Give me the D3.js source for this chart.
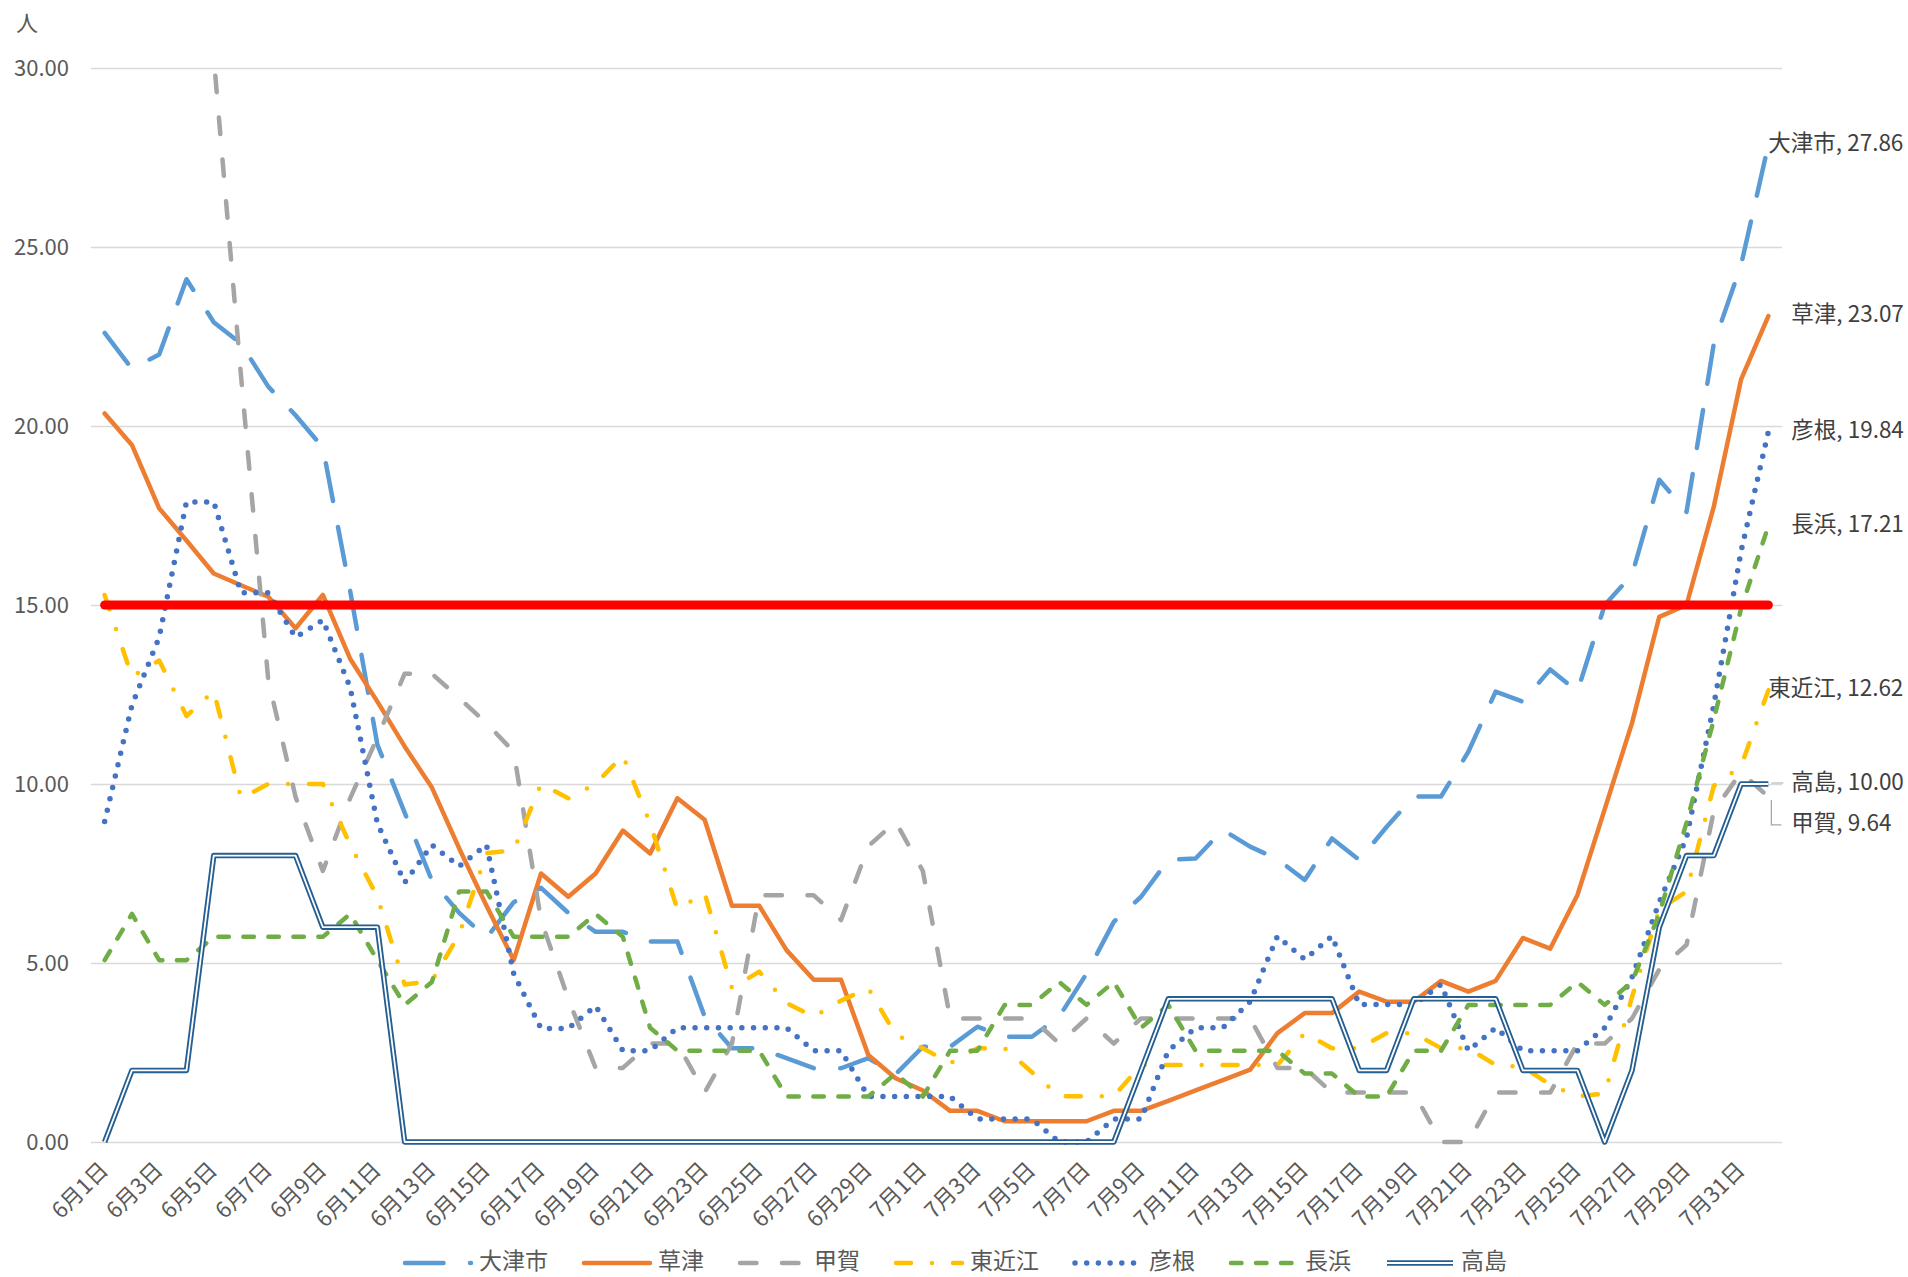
<!DOCTYPE html>
<html>
<head>
<meta charset="utf-8">
<script src="https://cdn.jsdelivr.net/npm/d3@7"></script>
<style>
  body { margin: 0; background: #fff; }
  svg { display: block; }
</style>
</head>
<body>
<svg></svg>
<script>
let dates = [
  '6月1日', '6月2日', '6月3日', '6月4日', '6月5日', '6月6日', '6月7日', '6月8日', '6月9日', '6月10日',
  '6月11日', '6月12日', '6月13日', '6月14日', '6月15日', '6月16日', '6月17日', '6月18日', '6月19日', '6月20日',
  '6月21日', '6月22日', '6月23日', '6月24日', '6月25日', '6月26日', '6月27日', '6月28日', '6月29日', '6月30日',
  '7月1日', '7月2日', '7月3日', '7月4日', '7月5日', '7月6日', '7月7日', '7月8日', '7月9日', '7月10日',
  '7月11日', '7月12日', '7月13日', '7月14日', '7月15日', '7月16日', '7月17日', '7月18日', '7月19日', '7月20日',
  '7月21日', '7月22日', '7月23日', '7月24日', '7月25日', '7月26日', '7月27日', '7月28日', '7月29日', '7月30日',
  '7月31日', '8月1日'
]

let otsu = [
  22.6, 21.6, 22.0, 24.1, 22.9, 22.3, 21.1, 20.3, 19.4, 15.4,
  11.1, 9.2, 7.3, 6.4, 5.7, 6.7, 7.1, 6.4, 5.87, 5.87,
  5.6, 5.6, 3.5, 2.62, 2.62, 2.34, 2.06, 2.06, 2.34, 1.89,
  2.66, 2.66, 3.22, 2.94, 2.94, 3.5, 4.7, 6.15, 6.85, 7.88,
  7.92, 8.72, 8.25, 7.9, 7.32, 8.48, 7.88, 8.8, 9.65, 9.65,
  10.9, 12.58, 12.3, 13.2, 12.58, 15.0, 15.84, 18.5, 17.6, 22.3,
  24.5, 27.86
]

let kusatsu = [
  20.35, 19.47, 17.7, 16.8, 15.88, 15.55, 15.23, 14.35, 15.28, 13.5,
  12.3, 11.05, 9.9, 8.2, 6.6, 5.08, 7.5, 6.85, 7.5, 8.7,
  8.06, 9.6, 9.0, 6.6, 6.6, 5.36, 4.53, 4.53, 2.43, 1.78,
  1.44, 0.87, 0.87, 0.58, 0.58, 0.58, 0.58, 0.87, 0.87, 1.15,
  1.44, 1.73, 2.02, 3.04, 3.6, 3.6, 4.2, 3.92, 3.92, 4.5,
  4.2, 4.5, 5.7, 5.4, 6.9, 9.3, 11.7, 14.67, 15.0, 17.75,
  21.3, 23.07
]

let koka = [
  31.68, 33.05, 34.43, 33.74, 30.3, 21.4, 12.9, 9.64, 7.57, 9.6,
  11.3, 13.08, 13.08, 12.4, 11.7, 10.9, 6.2, 4.0, 2.07, 2.07,
  2.75, 2.75, 1.38, 2.75, 6.89, 6.89, 6.89, 6.2, 8.26, 8.95,
  7.57, 3.45, 3.45, 3.45, 3.45, 2.75, 3.45, 2.75, 3.45, 3.45,
  3.45, 3.45, 3.45, 2.07, 2.07, 1.38, 1.38, 1.38, 1.38, 0,
  0, 1.38, 1.38, 1.38, 2.75, 2.75, 3.45, 4.82, 5.51, 9.25,
  10.33, 9.64
]

let higashiomi = [
  15.28, 13.0, 13.45, 11.9, 12.6, 9.6, 10.0, 10.0, 10.0, 8.3,
  6.85, 4.4, 4.5, 5.8, 8.07, 8.15, 10.0, 9.6, 10.0, 10.8,
  8.9, 6.5, 6.95, 4.3, 4.76, 3.88, 3.5, 3.95, 4.3, 3.0,
  2.62, 2.2, 2.62, 2.62, 1.95, 1.28, 1.28, 1.28, 2.15, 2.15,
  2.15, 2.15, 2.15, 2.15, 3.04, 2.62, 2.62, 3.04, 3.04, 2.62,
  2.62, 2.15, 2.1, 1.6, 1.28, 1.35, 4.05, 6.5, 7.0, 9.95,
  10.5, 12.62
]

let hikone = [
  8.95, 12.2, 14.1, 17.88, 17.88, 15.34, 15.34, 14.1, 14.58, 12.7,
  8.9, 7.25, 8.3, 7.7, 8.3, 4.7, 3.17, 3.17, 3.8, 2.55,
  2.55, 3.19, 3.19, 3.19, 3.19, 3.19, 2.55, 2.55, 1.27, 1.27,
  1.27, 1.27, 0.64, 0.64, 0.64, 0, 0, 0.64, 0.64, 2.55,
  3.19, 3.19, 3.92, 5.75, 5.1, 5.75, 3.84, 3.84, 3.84, 4.4,
  2.55, 3.19, 2.55, 2.55, 2.55, 3.19, 4.6, 6.7, 8.5, 12.2,
  16.5, 19.84
]

let nagahama = [
  5.08, 6.37, 5.08, 5.08, 5.73, 5.73, 5.73, 5.73, 5.73, 6.37,
  5.08, 3.83, 4.47, 7.0, 7.0, 5.73, 5.73, 5.73, 6.37, 5.73,
  3.19, 2.55, 2.55, 2.55, 2.55, 1.27, 1.27, 1.27, 1.27, 1.91,
  1.27, 2.55, 2.55, 3.83, 3.83, 4.47, 3.83, 4.47, 3.19, 3.83,
  2.55, 2.55, 2.55, 2.55, 1.91, 1.91, 1.27, 1.27, 2.55, 2.55,
  3.83, 3.83, 3.83, 3.83, 4.47, 3.83, 4.47, 6.37, 8.92, 11.8,
  14.9, 17.21
]

let takashima = [
  0, 2, 2, 2, 8, 8, 8, 8, 6, 6,
  6, 0, 0, 0, 0, 0, 0, 0, 0, 0,
  0, 0, 0, 0, 0, 0, 0, 0, 0, 0,
  0, 0, 0, 0, 0, 0, 0, 0, 2, 4,
  4, 4, 4, 4, 4, 4, 2, 2, 4, 4,
  4, 4, 2, 2, 2, 0, 2, 6, 8, 8,
  10, 10
]

let names = [ '大津市', '草津', '甲賀', '東近江', '彦根', '長浜', '高島' ]
let values = [ otsu, kusatsu, koka, higashiomi, hikone, nagahama, takashima ]
let threshold = 15
let yTicks = [ 0, 5, 10, 15, 20, 25, 30 ]
let unitLabel = '人'

// styles per series (kept apart from the data)
let styles = {
  '大津市': { color: '#5B9BD5', width: 4.5, dash: '38.5 26.5', labelDx: 0, labelDy: 0 },
  '草津':   { color: '#ED7D31', width: 4.5, dash: null, labelDx: 23, labelDy: 0 },
  '甲賀':   { color: '#A5A5A5', width: 4.5, dash: '16.5 25.5', labelDx: 23, labelDy: 28 },
  '東近江': { color: '#FFC000', width: 4.5, dash: '15 21 0 21', labelDx: 0, labelDy: 0 },
  '彦根':   { color: '#4472C4', width: 5.5, dash: '0 11.7', labelDx: 23, labelDy: 0 },
  '長浜':   { color: '#70AD47', width: 4.5, dash: '10.5 14.5', labelDx: 23, labelDy: 0 },
  '高島':   { color: '#255E91', width: 5.5, dash: null, double: true, labelDx: 23, labelDy: 0 }
}

let font = "'Noto Sans CJK JP', 'Noto Sans', sans-serif"
let width = 1908
let height = 1277
let plot = { left: 91, right: 1782, top: 68, bottom: 1142 }

const xScale =
d3.scalePoint()
  .domain( dates )
  .range( [ plot.left, plot.right ] )
  .padding( 0.5 )

const yScale =
d3.scaleLinear()
  .domain( [ 0, 30 ] )
  .range( [ plot.bottom, plot.top ] )

let chart =
d3.select( 'svg' )
  .attr( 'width', width )
  .attr( 'height', height )
  .attr( 'font-family', font )

chart.append( 'rect' )
  .attr( 'width', width )
  .attr( 'height', height )
  .attr( 'fill', '#fff' )

chart.append( 'clipPath' )
  .attr( 'id', 'plot-clip' )
  .append( 'rect' )
  .attr( 'x', 0 )
  .attr( 'y', plot.top )
  .attr( 'width', width )
  .attr( 'height', plot.bottom - plot.top + 20 )

// gridlines
chart.append( 'g' )
  .attr( 'transform', `translate(${ plot.left },0)` )
  .call( d3.axisLeft( yScale ).tickValues( yTicks ).tickSize( -( plot.right - plot.left ) ).tickFormat( '' ) )
  .call( g => g.select( '.domain' ).remove() )
  .call( g => g.selectAll( 'line' ).attr( 'stroke', '#D9D9D9' ).attr( 'stroke-width', 1.5 ) )

// y axis labels
chart.append( 'g' )
  .attr( 'transform', `translate(${ plot.left },0)` )
  .call( d3.axisLeft( yScale ).tickValues( yTicks ).tickSize( 0 ).tickPadding( 22 ).tickFormat( d3.format( '.2f' ) ) )
  .attr( 'font-family', font )
  .attr( 'font-size', 22 )
  .call( g => g.select( '.domain' ).remove() )
  .call( g => g.selectAll( 'text' ).attr( 'fill', '#595959' ) )

chart.append( 'text' )
  .text( unitLabel )
  .attr( 'x', 27 )
  .attr( 'y', 25 )
  .attr( 'text-anchor', 'middle' )
  .attr( 'dominant-baseline', 'middle' )
  .attr( 'font-size', 22 )
  .attr( 'fill', '#595959' )

// x axis labels, every other day, rotated
chart.append( 'g' )
  .attr( 'transform', `translate(0,${ plot.bottom })` )
  .call( d3.axisBottom( xScale ).tickValues( dates.filter( ( d, i ) => i % 2 == 0 ) ).tickSize( 0 ) )
  .attr( 'font-family', font )
  .attr( 'font-size', 22 )
  .call( g => g.select( '.domain' ).remove() )
  .call( g => g.selectAll( 'text' )
    .attr( 'fill', '#595959' )
    .attr( 'text-anchor', 'end' )
    .attr( 'x', 0 )
    .attr( 'y', 0 )
    .attr( 'dy', '0.35em' )
    .attr( 'transform', 'translate(-1,24) rotate(-45)' ) )

// series lines
let line =
d3.line()
  .x( ( d, i ) => xScale( dates[ i ] ) )
  .y( d => yScale( d ) )

let lines =
chart.append( 'g' )
  .attr( 'clip-path', 'url(#plot-clip)' )

names.forEach( ( name, k ) => {
  let s = styles[ name ]
  let path =
  lines.append( 'path' )
    .datum( values[ k ] )
    .attr( 'd', line )
    .attr( 'fill', 'none' )
    .attr( 'stroke', s.color )
    .attr( 'stroke-width', s.width )
    .attr( 'stroke-linejoin', 'round' )
    .attr( 'stroke-linecap', s.double ? 'butt' : 'round' )
  if ( s.dash ) path.attr( 'stroke-dasharray', s.dash )
  if ( s.double ) {
    lines.append( 'path' )
      .datum( values[ k ] )
      .attr( 'd', line )
      .attr( 'fill', 'none' )
      .attr( 'stroke', '#fff' )
      .attr( 'stroke-width', 1.8 )
      .attr( 'stroke-linejoin', 'round' )
  }
} )

// threshold line at 15
chart.append( 'line' )
  .attr( 'x1', xScale( dates[ 0 ] ) )
  .attr( 'x2', xScale( dates[ dates.length - 1 ] ) )
  .attr( 'y1', yScale( threshold ) )
  .attr( 'y2', yScale( threshold ) )
  .attr( 'stroke', '#FF0000' )
  .attr( 'stroke-width', 9 )
  .attr( 'stroke-linecap', 'round' )

// end labels
let last = dates[ dates.length - 1 ]
let xLast = xScale( last )

// leader lines for the labels that were moved
chart.append( 'path' )
  .attr( 'd', `M${ xLast + 3 },${ yScale( koka[ koka.length - 1 ] ) + 3 } V${ yScale( koka[ koka.length - 1 ] ) + 28 } H${ xLast + 13 }` )
  .attr( 'fill', 'none' )
  .attr( 'stroke', '#A6A6A6' )
  .attr( 'stroke-width', 1.3 )

chart.append( 'path' )
  .attr( 'd', `M${ xLast + 3 },${ yScale( takashima[ takashima.length - 1 ] ) - 1 } H${ xLast + 15 }` )
  .attr( 'fill', 'none' )
  .attr( 'stroke', '#BFBFBF' )
  .attr( 'stroke-width', 1.3 )

names.forEach( ( name, k ) => {
  let s = styles[ name ]
  let v = values[ k ][ values[ k ].length - 1 ]
  chart.append( 'text' )
    .text( `${ name }, ${ d3.format( '.2f' )( v ) }` )
    .attr( 'x', xLast + s.labelDx )
    .attr( 'y', yScale( v ) + s.labelDy )
    .attr( 'dominant-baseline', 'middle' )
    .attr( 'font-size', 22.5 )
    .attr( 'fill', '#404040' )
} )

// legend
let legend =
chart.append( 'g' )
  .attr( 'transform', 'translate(403,1263)' )

let lx = 0
names.forEach( name => {
  let s = styles[ name ]
  let item = legend.append( 'g' ).attr( 'transform', `translate(${ lx },0)` )
  let sample =
  item.append( 'line' )
    .attr( 'x1', 2 )
    .attr( 'x2', 68 )
    .attr( 'stroke', s.color )
    .attr( 'stroke-width', s.width )
    .attr( 'stroke-linecap', s.double ? 'butt' : 'round' )
  if ( s.dash ) sample.attr( 'stroke-dasharray', s.dash )
  if ( s.double ) {
    item.append( 'line' )
      .attr( 'x1', 2 )
      .attr( 'x2', 68 )
      .attr( 'stroke', '#fff' )
      .attr( 'stroke-width', 1.8 )
  }
  let label =
  item.append( 'text' )
    .text( name )
    .attr( 'x', 76 )
    .attr( 'dominant-baseline', 'middle' )
    .attr( 'font-size', 23 )
    .attr( 'fill', '#595959' )
  lx += 76 + label.node().getComputedTextLength() + 34
} )
</script>
</body>
</html>
